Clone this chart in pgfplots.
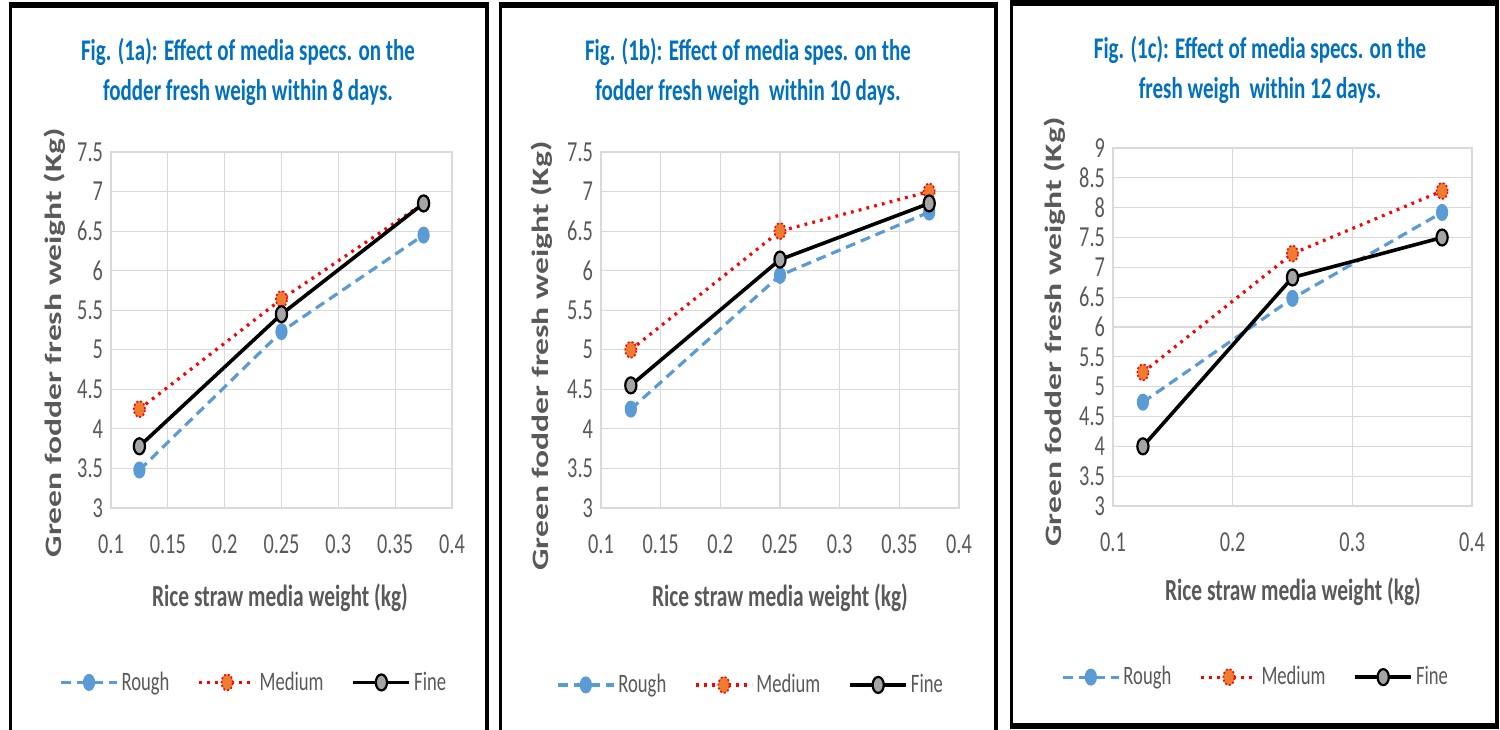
\documentclass[border=0pt]{standalone}
\usepackage{fontspec}
\setmainfont{Carlito}[FakeStretch=0.7]
\newfontfamily\ylfont{Carlito}
\usepackage{graphicx}
\usepackage{pgfplots}
\pgfplotsset{compat=1.18}
\definecolor{titleblue}{HTML}{0070C0}
\definecolor{roughblue}{HTML}{5B9BD5}
\definecolor{medorange}{HTML}{ED7D31}
\definecolor{finegray}{HTML}{A5A5A5}
\definecolor{txtgray}{HTML}{595959}
\definecolor{gridgray}{HTML}{D9D9D9}

\pgfplotsset{
  panel/.style={
    scale only axis,
    xmin=0.1, xmax=0.4,
    ymin=3,
    grid=major,
    major grid style={gridgray, line width=0.6pt},
    axis line style={gridgray, line width=0.6pt},
    major tick length=0pt,
    tick label style={font=\fontsize{14.5}{16}\selectfont, text=txtgray},
    /pgf/number format/assume math mode=true,
    xticklabel style={yshift=-10pt},
    yticklabel style={xshift=-0.5pt},
    legend columns=3,
    legend style={draw=none, fill=none, anchor=west,
      font=\fontsize{13.3}{15}\selectfont, text=txtgray,
      nodes={inner xsep=1.5pt},
      /tikz/every even column/.append style={column sep=12.5pt}},
    legend cell align=left,
    legend image code/.code={\draw[##1, mark repeat=2, mark phase=2] plot coordinates {(0pt,0pt) (14pt,0pt) (28pt,0pt)};},
    clip=false,
  },
  rough/.style={roughblue, line width=1.6pt, dash pattern=on 5pt off 3pt,
    mark=*, mark size=4pt,
    mark options={solid, fill=roughblue, draw=roughblue, line width=0.5pt, xscale=0.7}},
  medium/.style={red, line width=1.6pt, dash pattern=on 1.4pt off 2.6pt,
    mark=*, mark size=4pt,
    mark options={fill=medorange, draw=red, line width=0.8pt, dash pattern=on 1pt off 1pt, xscale=0.7}},
  fine/.style={black, line width=1.8pt, solid,
    mark=*, mark size=4pt,
    mark options={solid, fill=finegray, draw=black, line width=1.1pt, xscale=0.7}},
}

\begin{document}
\begin{tikzpicture}
\useasboundingbox (0,0) rectangle (750pt,364.5pt);

% Panel 1
\begin{axis}[panel, at={(55.5pt,110.5pt)}, anchor=south west,
  width=170.5pt, height=178pt, ymax=7.5,
  xtick={0.1,0.15,0.2,0.25,0.3,0.35,0.4},
  xticklabels={0.1,0.15,0.2,0.25,0.3,0.35,0.4},
  ytick={3,3.5,4,4.5,5,5.5,6,6.5,7,7.5},
  yticklabels={3,3.5,4,4.5,5,5.5,6,6.5,7,7.5},
  legend style={at={(axis description cs:-0.17,-0.49)}}]
\addplot[rough] coordinates {(0.125,3.48) (0.25,5.23) (0.375,6.45)};
\addplot[medium] coordinates {(0.125,4.25) (0.25,5.64) (0.375,6.85)};
\addplot[fine] coordinates {(0.125,3.78) (0.25,5.45) (0.375,6.85)};
\legend{Rough,Medium,Fine}
\end{axis}

% Panel 2
\begin{axis}[panel, at={(300.5pt,110.5pt)}, anchor=south west,
  width=179pt, height=178pt, ymax=7.5,
  xtick={0.1,0.15,0.2,0.25,0.3,0.35,0.4},
  xticklabels={0.1,0.15,0.2,0.25,0.3,0.35,0.4},
  ytick={3,3.5,4,4.5,5,5.5,6,6.5,7,7.5},
  yticklabels={3,3.5,4,4.5,5,5.5,6,6.5,7,7.5},
  legend style={at={(axis description cs:-0.143,-0.497)}}]
\addplot[rough] coordinates {(0.125,4.25) (0.25,5.94) (0.375,6.74)};
\addplot[medium] coordinates {(0.125,5.0) (0.25,6.5) (0.375,7.0)};
\addplot[fine] coordinates {(0.125,4.55) (0.25,6.14) (0.375,6.85)};
\legend{Rough,Medium,Fine}
\end{axis}

% Panel 3
\begin{axis}[panel, at={(556.5pt,111.5pt)}, anchor=south west,
  width=179.5pt, height=179pt, ymax=9,
  xtick={0.1,0.2,0.3,0.4},
  xticklabels={0.1,0.2,0.3,0.4},
  ytick={3,3.5,4,4.5,5,5.5,6,6.5,7,7.5,8,8.5,9},
  yticklabels={3,3.5,4,4.5,5,5.5,6,6.5,7,7.5,8,8.5,9},
  legend style={at={(axis description cs:-0.162,-0.478)}}]
\addplot[rough] coordinates {(0.125,4.74) (0.25,6.48) (0.375,7.92)};
\addplot[medium] coordinates {(0.125,5.24) (0.25,7.23) (0.375,8.28)};
\addplot[fine] coordinates {(0.125,4.0) (0.25,6.83) (0.375,7.5)};
\legend{Rough,Medium,Fine}
\end{axis}

% Titles
\begin{scope}[every node/.style={align=center, text=titleblue, font=\fontsize{15}{20}\selectfont\bfseries}]
\node at (124pt,328.5pt) {Fig. (1a): Effect of media specs. on the\\fodder fresh weigh within 8 days.};
\node at (374pt,328.5pt) {Fig. (1b): Effect of media spes. on the\\fodder fresh weigh\ \ within 10 days.};
\node at (630pt,329.5pt) {Fig. (1c): Effect of media specs. on the\\fresh weigh\ \ within 12 days.};
\end{scope}

% x labels
\begin{scope}[every node/.style={text=txtgray, font=\fontsize{15.3}{17}\selectfont\bfseries}]
\node at (140pt,65.5pt) {Rice straw media weight (kg)};
\node at (390pt,65.5pt) {Rice straw media weight (kg)};
\node at (646.5pt,68.5pt) {Rice straw media weight (kg)};
\end{scope}

% y labels
\begin{scope}[every node/.style={text=txtgray, rotate=90, font=\ylfont\fontsize{16.8}{18}\selectfont\bfseries}]
\node at (27.5pt,193.25pt) {\scalebox{1}[0.7]{Green fodder fresh weight (Kg)}};
\node at (271pt,186.5pt) {\scalebox{1}[0.7]{Green fodder fresh weight (Kg)}};
\node at (527.5pt,198.5pt) {\scalebox{1}[0.7]{Green fodder fresh weight (Kg)}};
\end{scope}

% Panel borders
\begin{scope}[black]
\draw[line width=1.6pt] (5.25pt,-5pt) -- (5.25pt,363pt);
\draw[line width=1.6pt] (243.5pt,-5pt) -- (243.5pt,363pt);
\draw[line width=2.6pt] (4.45pt,362pt) -- (244.3pt,362pt);
\draw[line width=1.6pt] (250.25pt,-5pt) -- (250.25pt,363pt);
\draw[line width=1.6pt] (498pt,-5pt) -- (498pt,363pt);
\draw[line width=2.6pt] (249.45pt,362pt) -- (498.8pt,362pt);
\draw[line width=1.6pt] (505.75pt,1.5pt) -- (505.75pt,363.5pt);
\draw[line width=1.6pt] (748.5pt,1.5pt) -- (748.5pt,363.5pt);
\draw[line width=2.6pt] (504.95pt,363pt) -- (749.3pt,363pt);
\draw[line width=2.6pt] (504.95pt,1.5pt) -- (749.3pt,1.5pt);
\end{scope}
\end{tikzpicture}
\end{document}
